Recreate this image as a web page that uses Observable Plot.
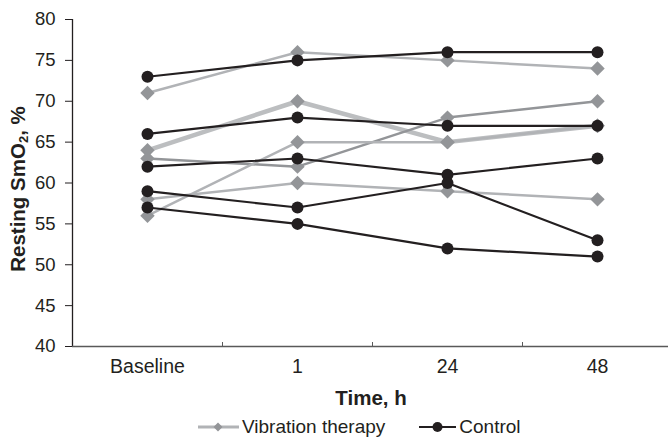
<!DOCTYPE html>
<html>
<head>
<meta charset="utf-8">
<script src="https://cdn.jsdelivr.net/npm/d3@7"></script>
<script src="https://cdn.jsdelivr.net/npm/@observablehq/plot@0.6"></script>
<style>
  html, body { margin: 0; padding: 0; background: #fff; }
  body { font-family: "Liberation Sans", Arial, sans-serif; color: #231f20; }
  #wrap { position: relative; width: 668px; height: 438px; }
  .ytitle { position: absolute; left: 18px; top: 189px; transform: translate(-50%, -50%) rotate(-90deg); white-space: nowrap; font-weight: bold; font-size: 20.5px; }
  .ytitle sub { font-size: 13px; vertical-align: -3px; line-height: 0; }
  .xtitle { position: absolute; left: 371px; top: 398px; transform: translate(-50%, -50%); white-space: nowrap; font-weight: bold; font-size: 20.5px; }
  .legend { position: absolute; left: 197px; top: 416px; display: flex; align-items: center; font-size: 19px; white-space: nowrap; }
  .legend .item { display: flex; align-items: center; }
  .legend svg { display: block; }
</style>
</head>
<body>
<div id="wrap">
  <div id="chart"></div>
  <div class="ytitle">Resting SmO<sub>2</sub>, %</div>
  <div class="xtitle">Time, h</div>
  <div class="legend">
    <div class="item">
      <svg width="43" height="20"><line x1="1" x2="42" y1="10" y2="10" stroke="#b1b3b6" stroke-width="3"/><path d="M21,5.5 L25.5,10 L21,14.5 L16.5,10 Z" fill="#939598"/></svg>
      <span style="margin-left:2px">Vibration therapy</span>
    </div>
    <div class="item" style="margin-left:33px">
      <svg width="39" height="20"><line x1="1" x2="38" y1="10" y2="10" stroke="#231f20" stroke-width="2.2"/><circle cx="19.5" cy="10" r="5" fill="#231f20"/></svg>
      <span style="margin-left:2px">Control</span>
    </div>
  </div>
</div>
<script>
// ---- data ----
const categories = ["Baseline", "1", "24", "48"];
const vibration = [
  [71, 76, 75, 74],
  [64, 70, 65, 67],
  [63, 62, 68, 70],
  [56, 65, 65, 67],
  [58, 60, 59, 58]
];
const control = [
  [73, 75, 76, 76],
  [66, 68, 67, 67],
  [62, 63, 61, 63],
  [59, 57, 60, 53],
  [57, 55, 52, 51]
];
const yTicks = [40, 45, 50, 55, 60, 65, 70, 75, 80];

// ---- styles (kept apart from data) ----
const vibStroke = ["#b1b3b6", "#bcbec0", "#939598", "#b1b3b6", "#b1b3b6"];
const vibWidth = [2.5, 4.5, 2.5, 2.5, 2.5];
const black = "#231f20";

const toRows = (series, name) => series.flatMap((vals, s) =>
  vals.map((v, i) => ({group: name, s, i, value: v})));
const vibRows = toRows(vibration, "Vibration therapy");
const ctlRows = toRows(control, "Control");

const boundaries = d3.range(1, categories.length).map(i => i - 0.5);
const xDomain = [-0.5, categories.length - 0.5];

const marks = [];
marks.push(Plot.ruleX([xDomain[0]], {stroke: black, strokeWidth: 1.3}));
marks.push(Plot.ruleY([yTicks[0]], {stroke: "#595959", strokeWidth: 1.6}));
vibration.forEach((_, s) => {
  const rows = vibRows.filter(d => d.s === s);
  marks.push(Plot.line(rows, {x: "i", y: "value", stroke: vibStroke[s], strokeWidth: vibWidth[s]}));
});
marks.push(Plot.dot(vibRows, {x: "i", y: "value", symbol: "diamond2", r: 6.5, fill: "#939598", stroke: "none"}));
marks.push(Plot.line(ctlRows, {x: "i", y: "value", z: "s", stroke: black, strokeWidth: 2.2}));
marks.push(Plot.dot(ctlRows, {x: "i", y: "value", r: 6, fill: black, stroke: "none"}));
marks.push(Plot.axisY({ticks: yTicks, tickSize: 7, tickPadding: 10, label: null, stroke: black, fontSize: 18.5}));
marks.push(Plot.axisX({ticks: d3.range(categories.length), tickFormat: i => categories[i], tickSize: 0, tickPadding: 13, label: null, fontSize: 19.5}));
marks.push(Plot.axisX({ticks: boundaries, tickFormat: () => "", tickSize: -4, label: null, stroke: "#595959"}));

const chart = Plot.plot({
  width: 668,
  height: 412,
  marginLeft: 72,
  marginRight: -4,
  marginTop: 19,
  marginBottom: 66,
  style: {fontFamily: '"Liberation Sans", Arial, sans-serif', fontSize: "18px", color: black, background: "#fff", overflow: "hidden"},
  x: {type: "linear", domain: xDomain},
  y: {domain: [yTicks[0], yTicks[yTicks.length - 1]]},
  marks
});
document.getElementById("chart").appendChild(chart);
</script>
</body>
</html>
